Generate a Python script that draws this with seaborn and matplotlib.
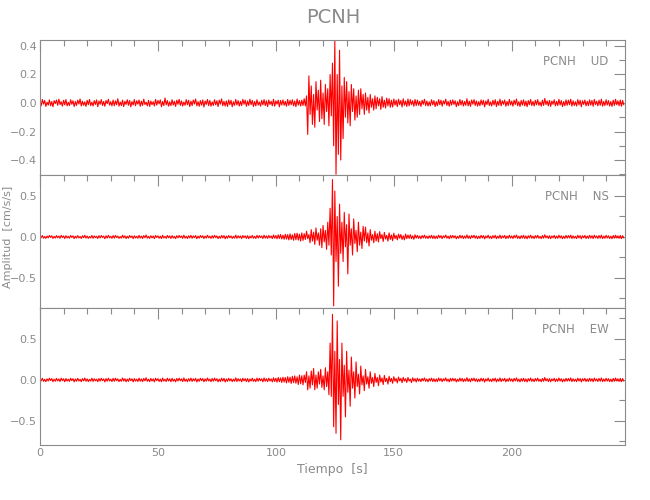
import numpy as np
import pandas as pd
import matplotlib
matplotlib.use("Agg")
import matplotlib.pyplot as plt
from matplotlib.ticker import MultipleLocator
import seaborn as sns

# station / components
station = "PCNH"
components = ["UD", "NS", "EW"]

# swings, two values per second
# quiet part before the event (0-111.5 s)
ud_pre = [0.012,-0.02,0.025,-0.008,0.018,-0.024,0.006,-0.015,0.022,-0.019,0.01,-0.026,0.017,-0.004,0.021,-0.016,
          0.027,-0.011,0.009,-0.022,0.019,-0.013,0.024,-0.02,0.005,-0.018,0.023,-0.009,0.016,-0.025,0.011,-0.017,
          0.02,-0.007,0.028,-0.021,0.013,-0.016,0.008,-0.024,0.019,-0.012,0.025,-0.018,0.006,-0.021,0.017,-0.01,
          0.022,-0.026,0.014,-0.009,0.024,-0.017,0.011,-0.023,0.018,-0.005,0.026,-0.015,0.009,-0.02,0.021,-0.019,
          0.015,-0.012,0.03,-0.022,0.007,-0.018,0.02,-0.025,0.012,-0.01,0.023,-0.016,0.018,-0.027,0.01,-0.014,
          0.024,-0.019,0.016,-0.008,0.021,-0.023,0.013,-0.017,0.027,-0.011,0.006,-0.02,0.019,-0.024,0.014,-0.012,
          0.009,-0.021,0.025,-0.015,0.018,-0.006,0.022,-0.026,0.011,-0.018,0.035,-0.013,0.017,-0.022,0.008,-0.019,
          0.023,-0.014,0.012,-0.024,0.02,-0.009,0.026,-0.017,0.015,-0.021,0.007,-0.016,0.024,-0.012,0.019,-0.025,
          0.013,-0.018,0.021,-0.007,0.028,-0.02,0.01,-0.023,0.017,-0.015,0.022,-0.028,0.014,-0.01,0.025,-0.018,
          0.018,-0.022,0.008,-0.017,0.023,-0.013,0.016,-0.025,0.02,-0.008,0.029,-0.019,0.012,-0.021,0.015,-0.024,
          0.022,-0.011,0.019,-0.026,0.009,-0.016,0.025,-0.014,0.017,-0.021,0.012,-0.018,0.026,-0.009,0.02,-0.023,
          0.014,-0.017,0.027,-0.012,0.018,-0.024,0.011,-0.02,0.023,-0.015,0.007,-0.022,0.019,-0.013,0.024,-0.018,
          0.016,-0.025,0.021,-0.01,0.012,-0.019,0.026,-0.022,0.015,-0.008,0.02,-0.027,0.018,-0.014,0.022,-0.016,
          0.011,-0.023,0.025,-0.017,0.019,-0.012,0.023,-0.02,0.014,-0.026,0.028,-0.015,0.017,-0.021,0.02,-0.018]
# event window (112-159.5 s)
ud_evt = [0.03,-0.02, 0.05,-0.22, 0.19,-0.08, 0.12,-0.15, 0.06,-0.17, 0.15,-0.05, 0.09,-0.13, 0.16,-0.11,
          0.07,-0.15, 0.13,-0.06, 0.1,-0.16, 0.2,-0.09, 0.28,-0.3, 0.44,-0.5, 0.2,-0.36, 0.37,-0.4,
          0.12,-0.25, 0.18,-0.1, 0.15,-0.14, 0.08,-0.16, 0.13,-0.06, 0.1,-0.12, 0.05,-0.1, 0.09,-0.08,
          0.1,-0.04, 0.06,-0.08, 0.07,-0.05, 0.04,-0.07, 0.06,-0.03, 0.03,-0.05, 0.05,-0.04, 0.04,-0.02,
          0.03,-0.045, 0.045,-0.03, 0.02,-0.035, 0.035,-0.02, 0.03,-0.03, 0.02,-0.028,
          0.028,-0.015,0.02,-0.025,0.027,-0.012,0.018,-0.028,0.03,-0.016,0.014,-0.024,0.028,-0.02,0.024,-0.012,
          0.016,-0.023,0.025,-0.018]
# quiet part after the event (160-247.5 s)
ud_post = [0.021,-0.016,0.012,-0.024,0.019,-0.009,0.026,-0.018,0.014,-0.021,0.008,-0.02,0.023,-0.013,0.017,-0.025,
           0.01,-0.019,0.024,-0.012,0.02,-0.022,0.015,-0.007,0.027,-0.017,0.012,-0.023,0.019,-0.015,0.022,-0.01,
           0.016,-0.026,0.009,-0.018,0.025,-0.014,0.018,-0.021,0.011,-0.016,0.03,-0.02,0.013,-0.024,0.021,-0.008,
           0.024,-0.017,0.015,-0.022,0.01,-0.019,0.022,-0.012,0.019,-0.027,0.014,-0.011,0.026,-0.018,0.008,-0.021,
           0.019,-0.013,0.023,-0.025,0.012,-0.016,0.027,-0.02,0.016,-0.009,0.021,-0.023,0.011,-0.018,0.025,-0.014,
           0.013,-0.022,0.02,-0.01,0.028,-0.019,0.009,-0.024,0.018,-0.015,0.022,-0.02,0.014,-0.026,0.017,-0.012,
           0.025,-0.018,0.011,-0.021,0.019,-0.013,0.024,-0.016,0.007,-0.022,0.02,-0.017,0.032,-0.011,0.015,-0.02,
           0.018,-0.024,0.014,-0.009,0.023,-0.02,0.012,-0.018,0.026,-0.014,0.017,-0.025,0.01,-0.019,0.022,-0.016,
           0.02,-0.012,0.027,-0.022,0.015,-0.017,0.009,-0.021,0.024,-0.013,0.019,-0.026,0.016,-0.01,0.021,-0.02,
           0.012,-0.019,0.022,-0.015,0.018,-0.023,0.025,-0.011,0.013,-0.02,0.02,-0.016,0.027,-0.022,0.011,-0.018,
           0.023,-0.014,0.017,-0.021,0.01,-0.024,0.02,-0.017,0.026,-0.012,0.015,-0.019,0.021,-0.023,0.018,-0.013]

ns_pre = [0.014,-0.009,0.018,-0.015,0.006,-0.017,0.012,-0.011,0.019,-0.005,0.015,-0.018,0.008,-0.013,0.017,-0.01,
          0.011,-0.016,0.02,-0.007,0.013,-0.019,0.016,-0.012,0.009,-0.015,0.018,-0.006,0.014,-0.02,0.01,-0.013,
          0.017,-0.011,0.007,-0.018,0.015,-0.009,0.021,-0.014,0.012,-0.017,0.006,-0.012,0.019,-0.016,0.013,-0.008,
          0.009,-0.019,0.016,-0.012,0.018,-0.006,0.011,-0.021,0.015,-0.013,0.02,-0.01,0.008,-0.016,0.017,-0.014,
          0.019,-0.008,0.012,-0.017,0.006,-0.014,0.022,-0.011,0.014,-0.019,0.01,-0.015,0.018,-0.007,0.013,-0.02,
          0.015,-0.012,0.009,-0.016,0.02,-0.013,0.011,-0.018,0.017,-0.009,0.024,-0.014,0.008,-0.017,0.016,-0.011,
          0.012,-0.02,0.018,-0.006,0.014,-0.015,0.01,-0.019,0.021,-0.012,0.007,-0.016,0.019,-0.01,0.013,-0.018,
          0.017,-0.013,0.008,-0.02,0.016,-0.011,0.019,-0.008,0.012,-0.017,0.022,-0.014,0.009,-0.018,0.015,-0.012,
          0.02,-0.016,0.013,-0.009,0.017,-0.021,0.011,-0.014,0.018,-0.007,0.015,-0.019,0.012,-0.013,0.021,-0.01,
          0.01,-0.018,0.016,-0.013,0.02,-0.008,0.014,-0.02,0.009,-0.016,0.019,-0.012,0.017,-0.021,0.011,-0.015,
          0.018,-0.01,0.013,-0.017,0.008,-0.014,0.023,-0.016,0.015,-0.011,0.012,-0.02,0.018,-0.009,0.014,-0.017,
          0.016,-0.021,0.011,-0.012,0.019,-0.015,0.009,-0.018,0.02,-0.013,0.017,-0.008,0.013,-0.019,0.022,-0.014,
          0.014,-0.017,0.019,-0.011,0.012,-0.02,0.024,-0.015,0.018,-0.022,0.026,-0.018,0.03,-0.024,0.022,-0.028,
          0.033,-0.026,0.029,-0.035,0.038,-0.03,0.027,-0.04,0.042,-0.034,0.046,-0.038,0.035,-0.05,0.05,-0.042]
ns_evt = [0.04,-0.03, 0.07,-0.02, 0.03,-0.07, 0.09,-0.05, 0.06,-0.09, 0.11,-0.04, 0.05,-0.1, 0.1,-0.13,
          0.14,-0.06, 0.08,-0.15, 0.18,-0.1, 0.35,-0.22, 0.7,-0.84, 0.56,-0.3, 0.25,-0.6, 0.4,-0.2,
          0.18,-0.3, 0.3,-0.12, 0.15,-0.45, 0.28,-0.1, 0.1,-0.22, 0.22,-0.08, 0.08,-0.18, 0.18,-0.1,
          0.06,-0.14, 0.13,-0.05, 0.12,-0.07, 0.05,-0.11, 0.09,-0.04, 0.03,-0.07, 0.07,-0.05, 0.04,-0.06,
          0.065,-0.02, 0.03,-0.055, 0.055,-0.025, 0.02,-0.05, 0.05,-0.03, 0.025,-0.045,
          0.045,-0.02,0.02,-0.035,0.035,-0.015,0.03,-0.03,0.015,-0.035,0.035,-0.02,0.025,-0.018,0.028,-0.02,
          0.015,-0.028,0.027,-0.014]
ns_post = [0.02,-0.017,0.013,-0.021,0.018,-0.012,0.023,-0.016,0.011,-0.019,0.016,-0.014,0.021,-0.018,0.015,-0.02,
           0.012,-0.018,0.022,-0.01,0.017,-0.02,0.014,-0.009,0.024,-0.015,0.011,-0.021,0.018,-0.013,0.019,-0.011,
           0.015,-0.022,0.009,-0.016,0.021,-0.013,0.017,-0.019,0.012,-0.015,0.025,-0.017,0.013,-0.02,0.018,-0.009,
           0.021,-0.015,0.014,-0.02,0.01,-0.017,0.02,-0.012,0.017,-0.023,0.013,-0.011,0.022,-0.016,0.009,-0.019,
           0.017,-0.012,0.02,-0.021,0.011,-0.015,0.023,-0.018,0.014,-0.01,0.019,-0.02,0.012,-0.016,0.021,-0.013,
           0.013,-0.019,0.018,-0.01,0.024,-0.017,0.01,-0.021,0.016,-0.014,0.02,-0.018,0.013,-0.022,0.016,-0.012,
           0.022,-0.016,0.011,-0.019,0.017,-0.012,0.021,-0.015,0.008,-0.02,0.018,-0.015,0.027,-0.011,0.014,-0.018,
           0.016,-0.021,0.013,-0.01,0.02,-0.018,0.012,-0.016,0.022,-0.013,0.015,-0.021,0.01,-0.017,0.019,-0.014,
           0.018,-0.012,0.023,-0.019,0.014,-0.015,0.009,-0.019,0.021,-0.012,0.017,-0.022,0.015,-0.01,0.019,-0.018,
           0.012,-0.017,0.02,-0.014,0.016,-0.02,0.022,-0.011,0.013,-0.018,0.018,-0.015,0.023,-0.019,0.011,-0.016,
           0.02,-0.013,0.015,-0.019,0.01,-0.021,0.018,-0.015,0.022,-0.012,0.014,-0.017,0.019,-0.02,0.016,-0.012]

ew_pre = [0.016,-0.011,0.021,-0.017,0.008,-0.02,0.014,-0.013,0.022,-0.007,0.017,-0.021,0.01,-0.015,0.02,-0.012,
          0.013,-0.019,0.023,-0.009,0.015,-0.022,0.018,-0.014,0.011,-0.017,0.021,-0.008,0.016,-0.023,0.012,-0.015,
          0.02,-0.013,0.009,-0.021,0.017,-0.011,0.024,-0.016,0.014,-0.02,0.008,-0.014,0.022,-0.018,0.015,-0.01,
          0.011,-0.022,0.018,-0.014,0.021,-0.008,0.013,-0.024,0.017,-0.015,0.023,-0.012,0.01,-0.019,0.02,-0.016,
          0.022,-0.01,0.014,-0.02,0.008,-0.016,0.025,-0.013,0.016,-0.022,0.012,-0.017,0.021,-0.009,0.015,-0.023,
          0.017,-0.014,0.011,-0.019,0.023,-0.015,0.013,-0.021,0.02,-0.011,0.027,-0.016,0.01,-0.02,0.019,-0.013,
          0.014,-0.023,0.021,-0.008,0.016,-0.018,0.012,-0.022,0.024,-0.014,0.009,-0.019,0.022,-0.012,0.015,-0.021,
          0.02,-0.015,0.01,-0.023,0.019,-0.013,0.022,-0.01,0.014,-0.02,0.025,-0.016,0.011,-0.021,0.017,-0.014,
          0.023,-0.018,0.015,-0.011,0.02,-0.024,0.013,-0.016,0.021,-0.009,0.018,-0.022,0.014,-0.015,0.024,-0.012,
          0.012,-0.021,0.019,-0.015,0.023,-0.01,0.016,-0.023,0.011,-0.019,0.022,-0.014,0.02,-0.024,0.013,-0.017,
          0.021,-0.012,0.015,-0.02,0.01,-0.016,0.026,-0.019,0.017,-0.013,0.014,-0.023,0.021,-0.011,0.016,-0.02,
          0.018,-0.024,0.013,-0.014,0.022,-0.017,0.011,-0.021,0.023,-0.015,0.02,-0.01,0.015,-0.022,0.025,-0.016,
          0.016,-0.02,0.022,-0.013,0.014,-0.023,0.027,-0.018,0.021,-0.026,0.03,-0.021,0.026,-0.03,0.034,-0.025,
          0.03,-0.036,0.04,-0.028,0.035,-0.042,0.045,-0.033,0.05,-0.04,0.038,-0.055,0.06,-0.045,0.052,-0.06]
ew_evt = [0.06,-0.03, 0.1,-0.12, 0.05,-0.1, 0.11,-0.06, 0.14,-0.12, 0.06,-0.1, 0.1,-0.05, 0.13,-0.09,
          0.05,-0.12, 0.15,-0.08, 0.1,-0.18, 0.45,-0.2, 0.8,-0.57, 0.35,-0.65, 0.72,-0.3, 0.25,-0.73,
          0.45,-0.2, 0.18,-0.45, 0.35,-0.15, 0.12,-0.32, 0.28,-0.1, 0.1,-0.22, 0.22,-0.08, 0.07,-0.17,
          0.17,-0.06, 0.05,-0.13, 0.13,-0.05, 0.04,-0.1, 0.1,-0.04, 0.03,-0.08, 0.08,-0.03, 0.03,-0.07,
          0.06,-0.025, 0.025,-0.055, 0.055,-0.02, 0.02,-0.05, 0.045,-0.02, 0.02,-0.04,
          0.04,-0.015,0.018,-0.035,0.035,-0.012,0.02,-0.032,0.032,-0.014,0.016,-0.03,0.03,-0.012,0.012,-0.032,
          0.026,-0.015,0.017,-0.025]
ew_post = [0.022,-0.015,0.014,-0.02,0.019,-0.011,0.025,-0.017,0.012,-0.022,0.017,-0.013,0.023,-0.019,0.016,-0.021,
           0.013,-0.02,0.024,-0.011,0.018,-0.021,0.015,-0.01,0.026,-0.016,0.012,-0.023,0.02,-0.014,0.021,-0.012,
           0.017,-0.024,0.01,-0.017,0.023,-0.014,0.019,-0.02,0.013,-0.016,0.028,-0.018,0.014,-0.022,0.02,-0.01,
           0.023,-0.016,0.015,-0.021,0.011,-0.018,0.022,-0.013,0.018,-0.025,0.014,-0.012,0.024,-0.017,0.01,-0.02,
           0.018,-0.013,0.022,-0.023,0.012,-0.016,0.025,-0.019,0.015,-0.011,0.02,-0.022,0.013,-0.017,0.023,-0.014,
           0.014,-0.021,0.019,-0.011,0.026,-0.018,0.011,-0.023,0.017,-0.015,0.021,-0.019,0.014,-0.024,0.017,-0.013,
           0.024,-0.017,0.012,-0.02,0.018,-0.013,0.023,-0.016,0.009,-0.021,0.019,-0.016,0.03,-0.012,0.015,-0.019,
           0.017,-0.022,0.014,-0.011,0.021,-0.019,0.013,-0.017,0.024,-0.014,0.016,-0.023,0.011,-0.018,0.02,-0.015,
           0.019,-0.013,0.025,-0.02,0.015,-0.016,0.01,-0.02,0.022,-0.013,0.018,-0.024,0.016,-0.011,0.02,-0.019,
           0.013,-0.018,0.021,-0.015,0.017,-0.021,0.023,-0.012,0.014,-0.019,0.019,-0.016,0.025,-0.02,0.012,-0.017,
           0.021,-0.014,0.016,-0.02,0.011,-0.022,0.019,-0.016,0.024,-0.013,0.015,-0.018,0.02,-0.021,0.017,-0.013]

# sample times (0.5 s step)
t_all = np.arange(0, 248, 0.5)

traces = {
    "UD": ud_pre + ud_evt + ud_post,
    "NS": ns_pre + ns_evt + ns_post,
    "EW": ew_pre + ew_evt + ew_post,
}

rows = []
for comp in components:
    for t, v in zip(t_all, traces[comp]):
        rows.append((comp, t, v))
df = pd.DataFrame(rows, columns=["comp", "tiempo", "amp"])

sns.set_style("white")
plt.rcParams["font.family"] = ["DejaVu Sans"]
gray = "#8a8a8a"

fig = plt.figure(figsize=(6.5, 5), dpi=100)
left, width = 0.0615, 0.9
boxes = [(0.65, 0.27), (0.384, 0.266), (0.11, 0.274)]
ylims = [(-0.505, 0.442), (-0.866, 0.756), (-0.793, 0.878)]
majors = [0.2, 0.5, 0.5]
minors = [0.1, 0.25, 0.25]

for i, comp in enumerate(components):
    ax = fig.add_axes([left, boxes[i][0], width, boxes[i][1]])
    sns.lineplot(data=df[df["comp"] == comp], x="tiempo", y="amp", ax=ax,
                 color="red", lw=0.8, estimator=None, sort=False)
    ax.set_xlim(0, 248)
    ax.set_ylim(*ylims[i])
    ax.xaxis.set_major_locator(MultipleLocator(50))
    ax.xaxis.set_minor_locator(MultipleLocator(10))
    ax.yaxis.set_major_locator(MultipleLocator(majors[i]))
    ax.yaxis.set_minor_locator(MultipleLocator(minors[i]))
    ax.yaxis.set_major_formatter(lambda v, p: f"{v:.1f}".replace("-", "\u2212"))
    ax.tick_params(which="both", direction="in", top=True, right=True,
                   color=gray, labelcolor=gray, labelsize=8, width=0.8, pad=2)
    ax.tick_params(which="major", length=8)
    ax.tick_params(which="minor", length=4)
    for s in ax.spines.values():
        s.set_color(gray)
        s.set_linewidth(0.8)
    ax.set_xlabel("")
    ax.set_ylabel("")
    if i < 2:
        ax.set_xticklabels([])
    ax.text(0.972, 0.84, f"{station}    {comp}", transform=ax.transAxes,
            ha="right", va="center", color=gray, fontsize=8.5)
    if i == 2:
        ax.set_xlabel("Tiempo  [s]", color=gray, fontsize=9, labelpad=4)

fig.text(0.012, 0.526, "Amplitud  [cm/s/s]", rotation=90, ha="center", va="center",
         color=gray, fontsize=8)
fig.text(0.512, 0.965, station, ha="center", va="center", color=gray, fontsize=14)
fig.savefig("out.png", dpi=100)
